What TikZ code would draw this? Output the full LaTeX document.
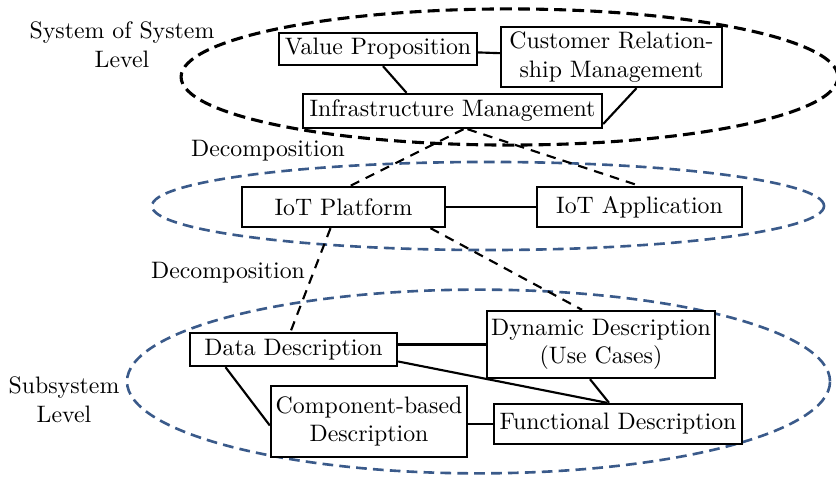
\documentclass[tikz,border=0pt]{standalone}
\usetikzlibrary{calc}
\definecolor{levelblue}{RGB}{58,90,138}
\begin{document}
\begin{tikzpicture}[x=0.4202pt, y=-0.4202pt,
  box/.style={draw, fill=white, line width=1pt, inner sep=1pt, align=center},
  link/.style={line width=0.9pt},
  decomp/.style={line width=0.9pt, dash pattern=on 4pt off 3pt},
  sosring/.style={line width=1.3pt, dash pattern=on 5pt off 2.6pt},
  subring/.style={draw=levelblue, line width=1.1pt, dash pattern=on 4.5pt off 2.6pt},
  lbl/.style={align=center, inner sep=0pt}]
\useasboundingbox (0,0) rectangle (836,477);

% level ellipses
\draw[sosring] (509.5,77) ellipse [x radius=138.0pt, y radius=28.6pt];
\draw[subring] (488,206) ellipse [x radius=141.2pt, y radius=18.5pt];
\draw[subring] (478.5,381.5) ellipse [x radius=147.7pt, y radius=38.6pt];

% system of systems level
\node[box, minimum width=198*0.4202pt, minimum height=32*0.4202pt] (vp) at (378,49) {Value Proposition};
\node[box, minimum width=221*0.4202pt, minimum height=60*0.4202pt] (crm) at (611.5,57) {Customer Relation-\\ship Management};
\node[box, minimum width=299*0.4202pt, minimum height=34*0.4202pt] (im) at (452.5,111) {Infrastructure Management};

% platform level
\node[box, minimum width=203*0.4202pt, minimum height=40*0.4202pt] (iotp) at (343.5,207) {IoT Platform};
\node[box, minimum width=205*0.4202pt, minimum height=40*0.4202pt] (iota) at (639.5,207) {IoT Application};

% subsystem level
\node[box, minimum width=207*0.4202pt, minimum height=33*0.4202pt] (dd) at (293.5,349.5) {Data Description};
\node[box, minimum width=228*0.4202pt, minimum height=67*0.4202pt] (dyn) at (601,344.5) {Dynamic Description\\(Use Cases)};
\node[box, minimum width=196*0.4202pt, minimum height=71*0.4202pt] (comp) at (369,421.5) {Component-based\\Description};
\node[box, minimum width=248*0.4202pt, minimum height=40*0.4202pt] (func) at (618,424) {Functional Description};

% labels
\node[lbl] (soslabel) at (122,45) {System of System\\Level};
\node[lbl] (dec1) at (268,151) {Decomposition};
\node[lbl] (dec2) at (228,273) {Decomposition};
\node[lbl] (sublabel) at (64,400) {Subsystem\\Level};

% solid relations
\draw[link] (vp) -- (crm);
\draw[link] ($(vp.south)+(5,0)$) -- ($(im.north)+(-46,0)$);
\draw[link] ($(crm.south)+(25,0)$) -- ($(im.east)+(0,13)$);
\draw[link] (iotp.east) -- (iota.west);
\draw[link] (dyn.west -| dd.east) -- (dyn.west);
\draw[link] ($(dd.east)+(0,12)$) -- ($(func.north)+(-11,0)$);
\draw[link] ($(dd.south)+(-68,0)$) -- ($(comp.west)+(0,4)$);
\draw[link] (comp.east |- func.west) -- (func.west);
\draw[link] ($(dyn.south)+(-11,0)$) -- ($(func.north)+(-9,0)$);

% decomposition relations
\draw[decomp] ($(im.south)+(11,0)$) -- ($(iotp.north)+(7,0)$);
\draw[decomp] ($(im.south)+(15,0)$) -- (iota.north);
\draw[decomp] ($(iotp.south)+(-13,0)$) -- ($(dd.north)+(-3,0)$);
\draw[decomp] ($(iotp.south)+(87,0)$) -- ($(dyn.north)+(-19,0)$);
\end{tikzpicture}
\end{document}
